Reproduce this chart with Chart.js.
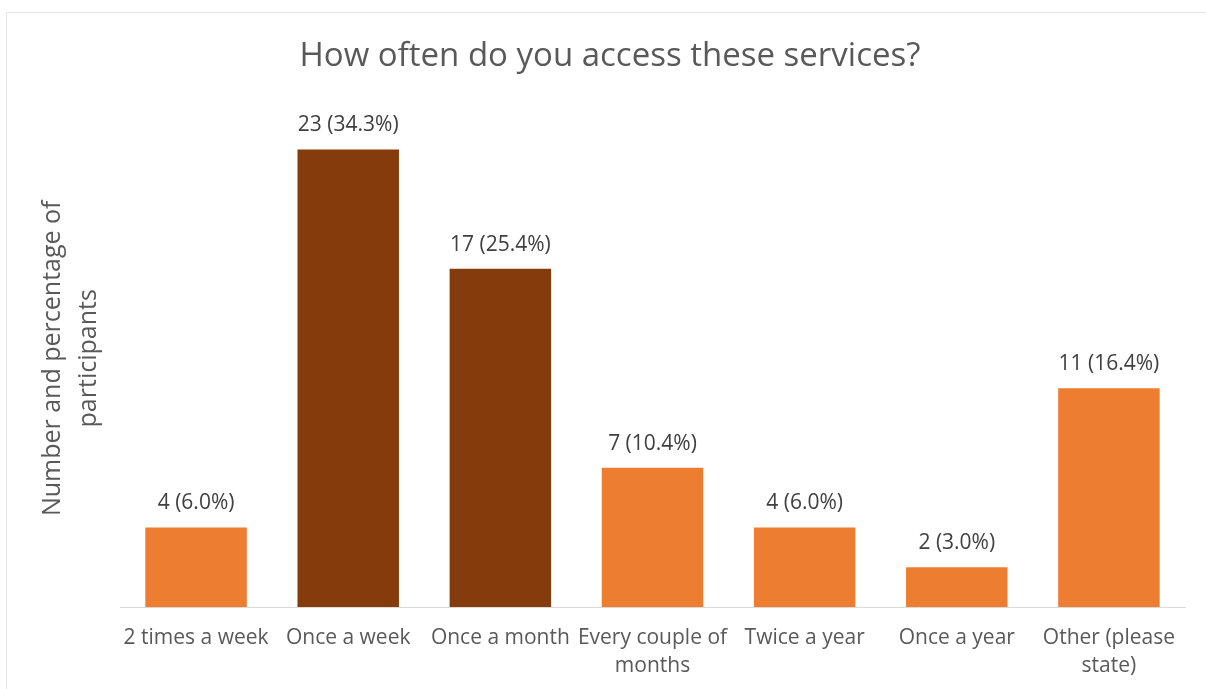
<!DOCTYPE html>
<html>
<head>
<meta charset="utf-8">
<script src="https://cdn.jsdelivr.net/npm/chart.js@4.4.0/dist/chart.umd.min.js"></script>
<style>
  html, body { margin: 0; padding: 0; background: #fff; }
  #wrap { width: 1206px; height: 689px; }
</style>
</head>
<body>
<div id="wrap"><canvas id="freqChart" width="1206" height="689"></canvas></div>
<script>
// Survey answers: how often services are accessed
const categories = [
  '2 times a week',
  'Once a week',
  'Once a month',
  ['Every couple of', 'months'],
  'Twice a year',
  'Once a year',
  ['Other (please', 'state)']
];
const counts = [4, 23, 17, 7, 4, 2, 11];
const labelText = ['4 (6.0%)', '23 (34.3%)', '17 (25.4%)', '7 (10.4%)', '4 (6.0%)', '2 (3.0%)', '11 (16.4%)'];

const ORANGE = '#ED7D31';
const BROWN = '#843C0C';
const barColours = [ORANGE, BROWN, BROWN, ORANGE, ORANGE, ORANGE, ORANGE];

const FONT = '"Open Sans", "DejaVu Sans", sans-serif';

// white background + thin frame like the exported picture
const frame = {
  id: 'frame',
  beforeDraw(chart) {
    const ctx = chart.ctx;
    ctx.save();
    ctx.fillStyle = '#fff';
    ctx.fillRect(0, 0, chart.width, chart.height);
    ctx.strokeStyle = '#e6e6e6';
    ctx.lineWidth = 1;
    ctx.strokeRect(6.5, 12.5, chart.width + 10, chart.height + 10);
    ctx.restore();
  }
};

// value labels over each bar
const barLabels = {
  id: 'barLabels',
  afterDatasetsDraw(chart) {
    const ctx = chart.ctx;
    const meta = chart.getDatasetMeta(0);
    ctx.save();
    ctx.font = '21px ' + FONT;
    ctx.fillStyle = '#404040';
    ctx.textAlign = 'center';
    ctx.textBaseline = 'middle';
    meta.data.forEach((bar, i) => {
      ctx.fillText(labelText[i], bar.x, bar.y - 24);
    });
    ctx.restore();
  }
};

new Chart(document.getElementById('freqChart'), {
  type: 'bar',
  data: {
    labels: categories,
    datasets: [{
      label: 'Participants',
      data: counts,
      backgroundColor: barColours,
      borderWidth: 0,
      barPercentage: 0.667,
      categoryPercentage: 1
    }]
  },
  options: {
    responsive: false,
    animation: false,
    layout: { padding: { left: 35, right: 21, top: 0, bottom: -8 } },
    plugins: {
      legend: { display: false },
      tooltip: { enabled: false },
      title: {
        display: true,
        text: 'How often do you access these services?',
        color: '#595959',
        font: { family: FONT, size: 33, weight: 'normal', lineHeight: 1.2 },
        padding: { top: 37, bottom: 33 }
      }
    },
    scales: {
      x: {
        grid: { display: false, drawTicks: false },
        border: { display: true, color: '#d9d9d9', width: 1 },
        ticks: {
          color: '#595959',
          font: { family: FONT, size: 21, lineHeight: 1.333 },
          padding: 17,
          maxRotation: 0,
          autoSkip: false
        }
      },
      y: {
        min: 0,
        max: 25,
        grid: { display: false, drawTicks: false },
        border: { display: false },
        ticks: { display: false },
        title: {
          display: true,
          text: ['Number and percentage of', 'participants'],
          color: '#595959',
          font: { family: FONT, size: 25, lineHeight: 1.44 },
          padding: { top: 0, bottom: 13 }
        }
      }
    }
  },
  plugins: [frame, barLabels]
});
</script>
</body>
</html>
